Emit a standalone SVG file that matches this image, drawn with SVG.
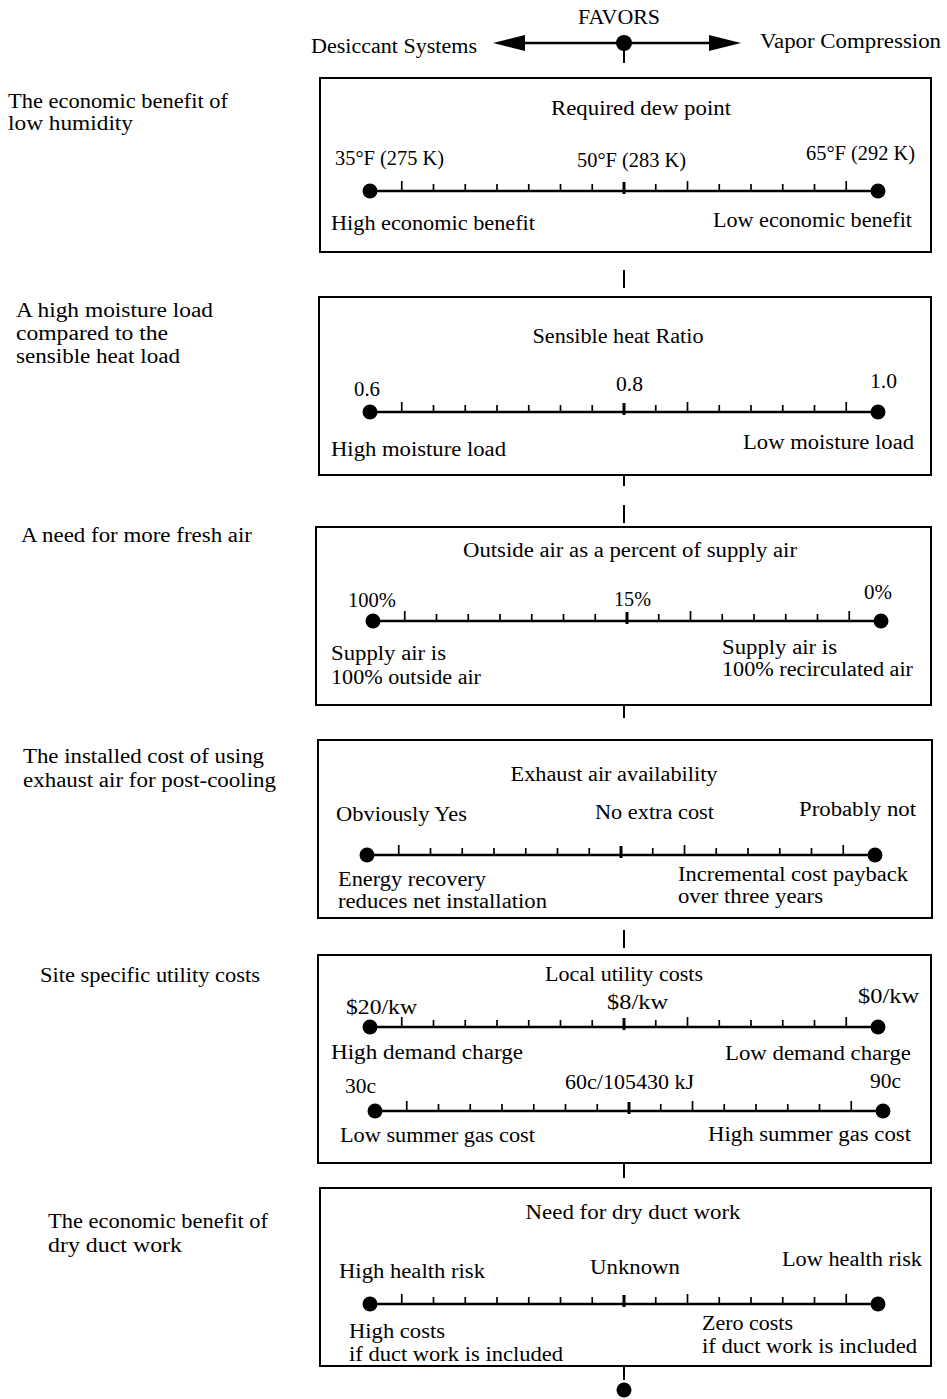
<svg xmlns="http://www.w3.org/2000/svg" xmlns:xlink="http://www.w3.org/1999/xlink" width="947" height="1399" viewBox="0 0 947 1399">
  <style>
    text { font-family: "Liberation Serif", "DejaVu Serif", serif; font-size: 20px; fill: #000; }
    .box { fill: none; stroke: #000; stroke-width: 2; }
    .conn { stroke: #000; stroke-width: 2; fill: none; }
  </style>
  <defs>
    <!-- A 16-division scale bar, origin at the left end point, 508 px long -->
    <g id="scale">
      <line x1="0" y1="0" x2="508" y2="0" stroke="#000" stroke-width="2.5"/>
      <path d="M31.75 0v-10 M63.5 0v-7 M95.25 0v-7 M127 0v-7 M158.75 0v-7 M190.5 0v-7 M222.25 0v-7
               M285.75 0v-7 M317.5 0v-10 M349.25 0v-7 M381 0v-7 M412.75 0v-7 M444.5 0v-7 M476.25 0v-10"
            stroke="#000" stroke-width="1.7" fill="none"/>
      <rect x="252.5" y="-9" width="3" height="12" fill="#000"/>
      <circle cx="0" cy="0" r="7.5" fill="#000"/>
      <circle cx="508" cy="0" r="7.5" fill="#000"/>
    </g>
  </defs>
  <rect width="947" height="1399" fill="#fff"/>

  <!-- header: direction of preference -->
  <g id="header">
    <text x="619" y="24" text-anchor="middle" textLength="82" lengthAdjust="spacingAndGlyphs">FAVORS</text>
    <text x="311" y="53" textLength="166" lengthAdjust="spacingAndGlyphs">Desiccant Systems</text>
    <text x="760" y="48" textLength="181" lengthAdjust="spacingAndGlyphs">Vapor Compression</text>
  </g>

  <!-- connectors -->
  <g id="connectors">
    <line x1="515" y1="43" x2="720" y2="43" stroke="#000" stroke-width="2.5"/>
    <polygon points="493,43 525,35 525,51" fill="#000"/>
    <polygon points="741,43 709,35 709,51" fill="#000"/>
    <circle cx="624" cy="43" r="8" fill="#000"/>
    <line class="conn" x1="624" y1="43" x2="624" y2="63"/>
    <line class="conn" x1="624" y1="270" x2="624" y2="288"/>
    <line class="conn" x1="624" y1="475" x2="624" y2="486"/>
    <line class="conn" x1="624" y1="505" x2="624" y2="523"/>
    <line class="conn" x1="624" y1="705" x2="624" y2="718"/>
    <line class="conn" x1="624" y1="930" x2="624" y2="948"/>
    <line class="conn" x1="624" y1="1163" x2="624" y2="1178"/>
    <line class="conn" x1="624" y1="1366" x2="624" y2="1380"/>
    <circle cx="624" cy="1390" r="7.5" fill="#000"/>
  </g>

  <!-- factor 1 -->
  <g id="dew-point">
    <text x="8" y="108" textLength="220" lengthAdjust="spacingAndGlyphs">The economic benefit of</text>
    <text x="8" y="130" textLength="125" lengthAdjust="spacingAndGlyphs">low humidity</text>
    <rect class="box" x="320" y="78" width="611" height="174"/>
    <text x="641" y="115" text-anchor="middle" textLength="180" lengthAdjust="spacingAndGlyphs">Required dew point</text>
    <text x="335" y="165" textLength="109" lengthAdjust="spacingAndGlyphs">35°F (275 K)</text>
    <text x="577" y="167" textLength="109" lengthAdjust="spacingAndGlyphs">50°F (283 K)</text>
    <text x="806" y="160" textLength="109" lengthAdjust="spacingAndGlyphs">65°F (292 K)</text>
    <use xlink:href="#scale" transform="translate(370,191)"/>
    <text x="331" y="230" textLength="204" lengthAdjust="spacingAndGlyphs">High economic benefit</text>
    <text x="713" y="227" textLength="199" lengthAdjust="spacingAndGlyphs">Low economic benefit</text>
  </g>

  <!-- factor 2 -->
  <g id="heat-ratio">
    <text x="16" y="317" textLength="197" lengthAdjust="spacingAndGlyphs">A high moisture load</text>
    <text x="16" y="340" textLength="152" lengthAdjust="spacingAndGlyphs">compared to the</text>
    <text x="16" y="363" textLength="164" lengthAdjust="spacingAndGlyphs">sensible heat load</text>
    <rect class="box" x="319" y="297" width="612" height="178"/>
    <text x="618" y="343" text-anchor="middle" textLength="171" lengthAdjust="spacingAndGlyphs">Sensible heat Ratio</text>
    <text x="354" y="396" textLength="26" lengthAdjust="spacingAndGlyphs">0.6</text>
    <text x="616" y="391" textLength="27" lengthAdjust="spacingAndGlyphs">0.8</text>
    <text x="870" y="388" textLength="27" lengthAdjust="spacingAndGlyphs">1.0</text>
    <use xlink:href="#scale" transform="translate(370,412)"/>
    <text x="331" y="456" textLength="175" lengthAdjust="spacingAndGlyphs">High moisture load</text>
    <text x="743" y="449" textLength="171" lengthAdjust="spacingAndGlyphs">Low moisture load</text>
  </g>

  <!-- factor 3 -->
  <g id="outside-air">
    <text x="21" y="542" textLength="231" lengthAdjust="spacingAndGlyphs">A need for more fresh air</text>
    <rect class="box" x="316" y="527" width="615" height="178"/>
    <text x="630" y="557" text-anchor="middle" textLength="334" lengthAdjust="spacingAndGlyphs">Outside air as a percent of supply air</text>
    <text x="348" y="607" textLength="48" lengthAdjust="spacingAndGlyphs">100%</text>
    <text x="614" y="606" textLength="37" lengthAdjust="spacingAndGlyphs">15%</text>
    <text x="864" y="599" textLength="28" lengthAdjust="spacingAndGlyphs">0%</text>
    <use xlink:href="#scale" transform="translate(373,621)"/>
    <text x="331" y="660" textLength="115" lengthAdjust="spacingAndGlyphs">Supply air is</text>
    <text x="331" y="684" textLength="150" lengthAdjust="spacingAndGlyphs">100% outside air</text>
    <text x="722" y="654" textLength="115" lengthAdjust="spacingAndGlyphs">Supply air is</text>
    <text x="722" y="676" textLength="191" lengthAdjust="spacingAndGlyphs">100% recirculated air</text>
  </g>

  <!-- factor 4 -->
  <g id="exhaust-air">
    <text x="23" y="763" textLength="241" lengthAdjust="spacingAndGlyphs">The installed cost of using</text>
    <text x="23" y="787" textLength="253" lengthAdjust="spacingAndGlyphs">exhaust air for post-cooling</text>
    <rect class="box" x="318" y="740" width="614" height="178"/>
    <text x="614" y="781" text-anchor="middle" textLength="207" lengthAdjust="spacingAndGlyphs">Exhaust air availability</text>
    <text x="336" y="821" textLength="131" lengthAdjust="spacingAndGlyphs">Obviously Yes</text>
    <text x="595" y="819" textLength="119" lengthAdjust="spacingAndGlyphs">No extra cost</text>
    <text x="799" y="816" textLength="117" lengthAdjust="spacingAndGlyphs">Probably not</text>
    <use xlink:href="#scale" transform="translate(367,855)"/>
    <text x="338" y="886" textLength="148" lengthAdjust="spacingAndGlyphs">Energy recovery</text>
    <text x="338" y="908" textLength="209" lengthAdjust="spacingAndGlyphs">reduces net installation</text>
    <text x="678" y="881" textLength="230" lengthAdjust="spacingAndGlyphs">Incremental cost payback</text>
    <text x="678" y="903" textLength="145" lengthAdjust="spacingAndGlyphs">over three years</text>
  </g>

  <!-- factor 5 -->
  <g id="utility-costs">
    <text x="40" y="982" textLength="220" lengthAdjust="spacingAndGlyphs">Site specific utility costs</text>
    <rect class="box" x="318" y="955" width="613" height="208"/>
    <text x="624" y="981" text-anchor="middle" textLength="158" lengthAdjust="spacingAndGlyphs">Local utility costs</text>
    <text x="346" y="1014" textLength="71" lengthAdjust="spacingAndGlyphs">$20/kw</text>
    <text x="607" y="1009" textLength="61" lengthAdjust="spacingAndGlyphs">$8/kw</text>
    <text x="858" y="1003" textLength="61" lengthAdjust="spacingAndGlyphs">$0/kw</text>
    <use xlink:href="#scale" transform="translate(370,1027)"/>
    <text x="331" y="1059" textLength="192" lengthAdjust="spacingAndGlyphs">High demand charge</text>
    <text x="725" y="1060" textLength="186" lengthAdjust="spacingAndGlyphs">Low demand charge</text>
    <text x="345" y="1093" textLength="31" lengthAdjust="spacingAndGlyphs">30c</text>
    <text x="565" y="1089" textLength="129" lengthAdjust="spacingAndGlyphs">60c/105430 kJ</text>
    <text x="870" y="1088" textLength="31" lengthAdjust="spacingAndGlyphs">90c</text>
    <use xlink:href="#scale" transform="translate(375,1111)"/>
    <text x="340" y="1142" textLength="195" lengthAdjust="spacingAndGlyphs">Low summer gas cost</text>
    <text x="708" y="1141" textLength="203" lengthAdjust="spacingAndGlyphs">High summer gas cost</text>
  </g>

  <!-- factor 6 -->
  <g id="dry-duct">
    <text x="48" y="1228" textLength="220" lengthAdjust="spacingAndGlyphs">The economic benefit of</text>
    <text x="48" y="1252" textLength="134" lengthAdjust="spacingAndGlyphs">dry duct work</text>
    <rect class="box" x="320" y="1188" width="611" height="178"/>
    <text x="633" y="1219" text-anchor="middle" textLength="215" lengthAdjust="spacingAndGlyphs">Need for dry duct work</text>
    <text x="339" y="1278" textLength="146" lengthAdjust="spacingAndGlyphs">High health risk</text>
    <text x="590" y="1274" textLength="90" lengthAdjust="spacingAndGlyphs">Unknown</text>
    <text x="782" y="1266" textLength="140" lengthAdjust="spacingAndGlyphs">Low health risk</text>
    <use xlink:href="#scale" transform="translate(370,1304)"/>
    <text x="349" y="1338" textLength="96" lengthAdjust="spacingAndGlyphs">High costs</text>
    <text x="349" y="1361" textLength="214" lengthAdjust="spacingAndGlyphs">if duct work is included</text>
    <text x="702" y="1330" textLength="91" lengthAdjust="spacingAndGlyphs">Zero costs</text>
    <text x="702" y="1353" textLength="215" lengthAdjust="spacingAndGlyphs">if duct work is included</text>
  </g>
</svg>
